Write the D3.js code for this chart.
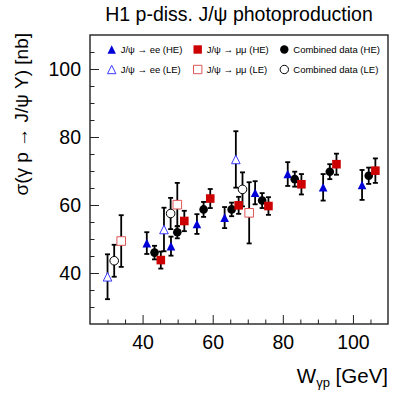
<!DOCTYPE html>
<html>
<head>
<meta charset="utf-8">
<script src="https://cdn.jsdelivr.net/npm/d3@7"></script>
<style>
body { margin: 0; background: #fff; }
text { font-family: "Liberation Sans", Arial, sans-serif; fill: #000; }
</style>
</head>
<body>
<div id="chart"></div>
<script>
// J/psi -> ee, high energy (filled triangles)
var eeHE_W   = [41.2, 48.1, 55.5, 63.4, 72.1, 81.4, 91.5, 102.6];
var eeHE_sig = [48.8, 47.9, 54.4, 56.3, 63.6, 69.1, 65.2, 65.9];
var eeHE_err = [3.2, 2.8, 2.9, 3.1, 3.4, 3.5, 3.9, 4.4];

// J/psi -> mumu, high energy (filled squares)
var mmHE_W   = [45.2, 51.9, 59.3, 67.4, 75.9, 85.3, 95.3, 106.4];
var mmHE_sig = [43.8, 55.3, 61.9, 59.9, 59.7, 66.1, 72.0, 70.1];
var mmHE_err = [2.5, 3.0, 2.8, 2.5, 2.6, 3.0, 3.1, 3.6];

// combined, high energy (filled circles)
var cbHE_W   = [43.4, 49.9, 57.4, 65.4, 74.1, 83.4, 93.4, 104.5];
var cbHE_sig = [46.0, 52.0, 58.7, 58.7, 61.3, 67.6, 69.8, 68.6];
var cbHE_err = [2.0, 1.8, 2.2, 2.0, 2.2, 2.2, 2.2, 2.4];

// low energy runs (open markers)
var eeLE_W   = [30.0, 46.1, 66.6];
var eeLE_sig = [38.9, 52.8, 73.4];
var eeLE_err = [6.6, 6.4, 8.3];

var mmLE_W   = [33.9, 49.9, 70.4];
var mmLE_sig = [49.4, 60.1, 57.7];
var mmLE_err = [7.6, 6.4, 9.0];

var cbLE_W   = [31.9, 48.0, 68.5];
var cbLE_sig = [43.6, 57.5, 64.6];
var cbLE_err = [4.7, 4.6, 5.0];

var xMajor = [40, 60, 80, 100];
var yMajor = [40, 60, 80, 100];

var W = 409, H = 396;
var margin = {top: 35, right: 21, bottom: 72, left: 90};
var width = W - margin.left - margin.right,
    height = H - margin.top - margin.bottom;

var svg = d3.select("#chart").append("svg")
    .attr("width", W)
    .attr("height", H);

var g = svg.append("g")
    .attr("transform", "translate(" + margin.left + "," + margin.top + ")");

var x = d3.scaleLinear().domain([25, 110]).range([0, width]);
var y = d3.scaleLinear().domain([25, 110]).range([height, 0]);

// axes, ROOT style: ticks pointing inward
var xMinor = d3.range(30, 110, 5).filter(function(v) { return xMajor.indexOf(v) < 0; });
var yMinor = d3.range(30, 110, 5).filter(function(v) { return yMajor.indexOf(v) < 0; });

g.append("g")
    .attr("class", "axis")
    .attr("transform", "translate(0," + height + ")")
    .call(d3.axisBottom(x).tickValues(xMinor).tickSize(-4.5).tickFormat(""));
g.append("g")
    .attr("class", "axis")
    .attr("transform", "translate(0," + height + ")")
    .call(d3.axisBottom(x).tickValues(xMajor).tickSize(-9).tickPadding(11));
g.append("g")
    .attr("class", "axis")
    .call(d3.axisLeft(y).tickValues(yMinor).tickSize(-4.5).tickFormat(""));
g.append("g")
    .attr("class", "axis")
    .call(d3.axisLeft(y).tickValues(yMajor).tickSize(-9).tickPadding(9));

g.selectAll(".axis .domain").remove();
g.selectAll(".axis line").attr("stroke", "#222").attr("stroke-width", 1);
g.selectAll(".axis text").style("font-size", "19.5px").style("font-family", "'Liberation Sans', Arial, sans-serif");

g.append("rect")
    .attr("width", width)
    .attr("height", height)
    .attr("fill", "none")
    .attr("stroke", "#222")
    .attr("stroke-width", 1.4);

// marker shapes
function markerPath(shape, s) {
    var h = s / 2;
    if (shape == "tri") return "M0," + (-h) + "L" + h + "," + h + "L" + (-h) + "," + h + "Z";
    if (shape == "sq") return "M" + (-h) + "," + (-h) + "H" + h + "V" + h + "H" + (-h) + "Z";
    return d3.symbol().type(d3.symbolCircle).size(Math.PI * h * h)();
}

var series = [
    {W: eeLE_W, sig: eeLE_sig, err: eeLE_err, shape: "tri", fill: "#fff", stroke: "#3a3aff", sw: 1},
    {W: cbLE_W, sig: cbLE_sig, err: cbLE_err, shape: "circ", fill: "#fff", stroke: "#000", sw: 1},
    {W: mmLE_W, sig: mmLE_sig, err: mmLE_err, shape: "sq", fill: "#fff", stroke: "#e05555", sw: 1},
    {W: eeHE_W, sig: eeHE_sig, err: eeHE_err, shape: "tri", fill: "#0000d8", stroke: "none", sw: 0},
    {W: cbHE_W, sig: cbHE_sig, err: cbHE_err, shape: "circ", fill: "#000", stroke: "none", sw: 0},
    {W: mmHE_W, sig: mmHE_sig, err: mmHE_err, shape: "sq", fill: "#cc0000", stroke: "none", sw: 0}
];

var capW = 2.5;
series.forEach(function(s) {
    var pts = s.W.map(function(w, i) { return {w: w, v: s.sig[i], e: s.err[i]}; });
    var eg = g.append("g").selectAll("g").data(pts).enter().append("g");
    eg.append("line")
        .attr("x1", function(d) { return x(d.w); })
        .attr("x2", function(d) { return x(d.w); })
        .attr("y1", function(d) { return y(d.v + d.e); })
        .attr("y2", function(d) { return y(d.v - d.e); });
    eg.append("line")
        .attr("x1", function(d) { return x(d.w) - capW; })
        .attr("x2", function(d) { return x(d.w) + capW; })
        .attr("y1", function(d) { return y(d.v + d.e); })
        .attr("y2", function(d) { return y(d.v + d.e); });
    eg.append("line")
        .attr("x1", function(d) { return x(d.w) - capW; })
        .attr("x2", function(d) { return x(d.w) + capW; })
        .attr("y1", function(d) { return y(d.v - d.e); })
        .attr("y2", function(d) { return y(d.v - d.e); });
    eg.selectAll("line").attr("stroke", "#000").attr("stroke-width", 1.8);
});

series.forEach(function(s) {
    var pts = s.W.map(function(w, i) { return {w: w, v: s.sig[i]}; });
    g.append("g").selectAll("path").data(pts).enter().append("path")
        .attr("d", markerPath(s.shape, 8.6))
        .attr("transform", function(d) { return "translate(" + x(d.w) + "," + y(d.v) + ")"; })
        .attr("fill", s.fill)
        .attr("stroke", s.stroke)
        .attr("stroke-width", s.sw);
});

// legend
var legendItems = [
    {label: "J/\u03c8 \u2192 ee (HE)", s: series[3], col: 0, row: 0},
    {label: "J/\u03c8 \u2192 \u03bc\u03bc (HE)", s: series[5], col: 1, row: 0},
    {label: "Combined data (HE)", s: series[4], col: 2, row: 0},
    {label: "J/\u03c8 \u2192 ee (LE)", s: series[0], col: 0, row: 1},
    {label: "J/\u03c8 \u2192 \u03bc\u03bc (LE)", s: series[2], col: 1, row: 1},
    {label: "Combined data (LE)", s: series[1], col: 2, row: 1}
];
var colX = [111.7, 197.7, 284.3];
var rowY = [49.5, 69.5];

var leg = svg.append("g");
legendItems.forEach(function(it) {
    leg.append("path")
        .attr("d", markerPath(it.s.shape, 8.4))
        .attr("transform", "translate(" + colX[it.col] + "," + rowY[it.row] + ")")
        .attr("fill", it.s.fill)
        .attr("stroke", it.s.stroke)
        .attr("stroke-width", it.s.sw);
    leg.append("text")
        .attr("x", colX[it.col] + 9)
        .attr("y", rowY[it.row] + 3.5)
        .style("font-size", "9.5px")
        .text(it.label);
});

// titles
svg.append("text")
    .attr("x", 239)
    .attr("y", 21)
    .attr("text-anchor", "middle")
    .style("font-size", "19.5px")
    .text("H1 p-diss. J/\u03c8 photoproduction");

svg.append("text")
    .attr("transform", "translate(28,33) rotate(-90)")
    .attr("text-anchor", "end")
    .style("font-size", "19px")
    .text("\u03c3(\u03b3 p \u2192 J/\u03c8 Y) [nb]");

var xl = svg.append("text")
    .attr("x", 388)
    .attr("y", 383)
    .attr("text-anchor", "end")
    .style("font-size", "20.5px");
xl.append("tspan").text("W");
xl.append("tspan").attr("dy", 4).style("font-size", "13px").text("\u03b3p");
xl.append("tspan").attr("dy", -4).text(" [GeV]");
</script>
</body>
</html>
